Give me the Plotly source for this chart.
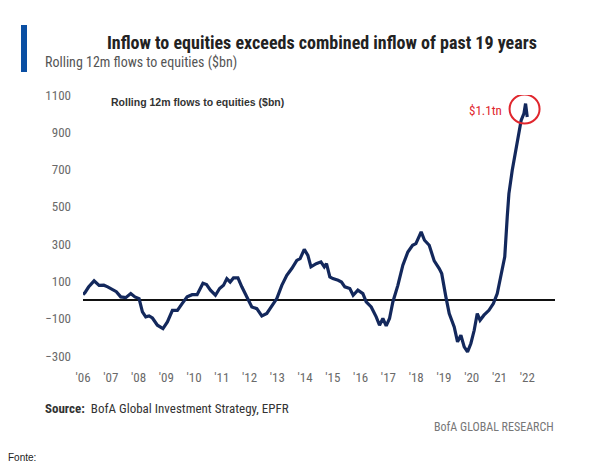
import plotly.graph_objects as go

# Rolling 12m flows to equities ($bn)
years = [2006.00, 2006.07, 2006.20, 2006.40, 2006.58, 2006.75, 2006.89, 2007.06, 2007.20, 2007.36,
         2007.54, 2007.72, 2007.87, 2008.02, 2008.14, 2008.26, 2008.38, 2008.50, 2008.68, 2008.88,
         2009.04, 2009.22, 2009.40, 2009.57, 2009.75, 2009.93, 2010.11, 2010.32, 2010.45, 2010.59,
         2010.77, 2010.92, 2011.06, 2011.18, 2011.30, 2011.42, 2011.58, 2011.72, 2011.90, 2012.08,
         2012.26, 2012.44, 2012.62, 2012.80, 2012.98, 2013.16, 2013.34, 2013.52, 2013.70, 2013.82,
         2013.97, 2014.10, 2014.21, 2014.40, 2014.57, 2014.69, 2014.77, 2014.89, 2015.00, 2015.19,
         2015.31, 2015.43, 2015.61, 2015.73, 2015.90, 2016.08, 2016.20, 2016.38, 2016.56, 2016.68,
         2016.80, 2016.92, 2017.04, 2017.16, 2017.34, 2017.52, 2017.70, 2017.87, 2017.99, 2018.18,
         2018.30, 2018.47, 2018.65, 2018.83, 2018.92, 2019.07, 2019.19, 2019.37, 2019.49, 2019.61,
         2019.73, 2019.85, 2019.97, 2020.09, 2020.20, 2020.30, 2020.44, 2020.62, 2020.78, 2020.92,
         2021.04, 2021.19, 2021.28, 2021.34, 2021.46, 2021.58, 2021.70, 2021.78, 2021.88, 2021.94,
         2022.00]
flows = [30, 40, 70, 103, 79, 80, 71, 58, 45, 17,
         13, 35, 17, 8, -63, -90, -85, -96, -135, -153,
         -117, -55, -55, -19, 17, 29, 29, 90, 83, 53,
         26, 62, 79, 115, 97, 119, 119, 71, 17, -37,
         -46, -85, -72, -28, 8, 79, 133, 169, 213, 222,
         272, 240, 178, 195, 205, 178, 196, 124, 115, 106,
         97, 71, 62, 26, 53, 35, -10, -37, -90, -135,
         -99, -138, -99, -10, 79, 187, 258, 294, 303, 366,
         321, 294, 210, 169, 142, 17, -72, -144, -224, -189,
         -251, -278, -233, -162, -72, -108, -81, -55, -19, 35,
         124, 232, 446, 571, 696, 803, 910, 964, 1000, 1054,
         982]

tick_vals = list(range(2006, 2023))
tick_text = ["'%02d" % (y % 100) for y in tick_vals]
y_ticks = [-300, -100, 100, 300, 500, 700, 900, 1100]

peak_year, peak_val = 2021.94, 1054

NARROW = "Liberation Sans Narrow, Arial Narrow, Roboto Condensed, Liberation Sans, Arial"

# page has an 8px body margin: figure origin sits at (8, 8) of the window
OFF = 8
W, H = 600, 457
L = 83 - OFF
T = 95 - OFF
R = W - (555 - OFF)
B = H - (356 - OFF)
pw, ph = W - L - R, H - T - B


def px(x):
    """window pixel x -> paper fraction"""
    return (x - OFF - L) / pw


def py(y):
    """window pixel y -> paper fraction"""
    return (H - B - (y - OFF)) / ph


fig = go.Figure()
fig.add_trace(go.Scatter(x=years, y=flows, mode="lines",
                         line=dict(color="#13285C", width=3.2),
                         hoverinfo="skip", showlegend=False))

fig.update_layout(
    width=W, height=H,
    margin=dict(l=L, r=R, t=T, b=B, autoexpand=False),
    paper_bgcolor="white", plot_bgcolor="white",
    xaxis=dict(range=[2006, 2023], tickvals=tick_vals, ticktext=tick_text,
               showgrid=False, zeroline=False, showline=False, ticks="",
               ticklabelstandoff=12, automargin=False,
               tickfont=dict(family=NARROW, size=13, color="#6a6a6a")),
    yaxis=dict(range=[-300, 1100], tickvals=y_ticks, showgrid=False,
               zeroline=True, zerolinecolor="#111111", zerolinewidth=1.5,
               showline=False, ticks="", ticklabelstandoff=11, automargin=False,
               tickfont=dict(family=NARROW, size=13, color="#6a6a6a")),
    shapes=[
        dict(type="rect", xref="paper", yref="paper",
             x0=px(21), x1=px(27), y0=py(72), y1=py(25),
             fillcolor="#0A4FA3", line=dict(width=0)),
        dict(type="circle", xref="x", yref="y", xsizemode="pixel", ysizemode="pixel",
             xanchor=peak_year, yanchor=peak_val, x0=-16, x1=14, y0=-20, y1=9,
             line=dict(color="#E0262D", width=2)),
    ],
    annotations=[
        dict(text="<b>Inflow to equities exceeds combined inflow of past 19 years</b>",
             xref="paper", yref="paper", x=px(322), y=py(42), xanchor="center", yanchor="middle",
             showarrow=False, font=dict(family=NARROW, size=18, color="#222222")),
        dict(text="Rolling 12m flows to equities ($bn)",
             xref="paper", yref="paper", x=px(43), y=py(62), xanchor="left", yanchor="middle",
             showarrow=False, font=dict(family=NARROW, size=14, color="#555555")),
        dict(text="<b>Rolling 12m flows to equities ($bn)</b>",
             xref="paper", yref="paper", x=px(109), y=py(102), xanchor="left", yanchor="middle",
             showarrow=False, font=dict(family="Liberation Sans, Arial", size=10.5, color="#333333")),
        dict(text="$1.1tn",
             xref="paper", yref="paper", x=px(504), y=py(110), xanchor="right", yanchor="middle",
             showarrow=False, font=dict(family=NARROW, size=13, color="#E0262D")),
        dict(text="<b>Source:</b>  BofA Global Investment Strategy, EPFR",
             xref="paper", yref="paper", x=px(43), y=py(408), xanchor="left", yanchor="middle",
             showarrow=False, font=dict(family=NARROW, size=13, color="#333333")),
        dict(text="BofA GLOBAL RESEARCH",
             xref="paper", yref="paper", x=px(556), y=py(427), xanchor="right", yanchor="middle",
             showarrow=False, font=dict(family=NARROW, size=12, color="#777777")),
        dict(text="Fonte:",
             xref="paper", yref="paper", x=px(6), y=py(457), xanchor="left", yanchor="middle",
             showarrow=False, font=dict(family="Liberation Sans, Arial", size=10, color="#222222")),
    ],
)

fig.write_html("out.html")
